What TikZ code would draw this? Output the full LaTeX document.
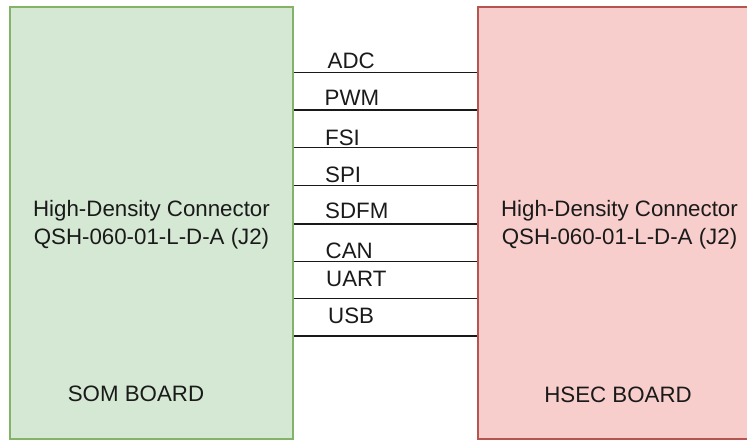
\documentclass[tikz,border=0pt]{standalone}
\usepackage{fontspec}
\setmainfont{Liberation Sans}
\definecolor{somfill}{HTML}{D5E8D4}
\definecolor{somline}{HTML}{82B366}
\definecolor{hsecfill}{HTML}{F8CECC}
\definecolor{hsecline}{HTML}{B85450}
\definecolor{txt}{HTML}{1A1A1A}
\begin{document}
\begin{tikzpicture}[x=1pt,y=-1pt,
  board/.style={rectangle, minimum width=283pt, minimum height=432pt, inner sep=0pt, line width=1.5pt},
  wire/.style={draw=black!90, line width=1.7pt},
  lbl/.style={inner sep=0pt, text=txt, font=\fontsize{22.3}{28}\selectfont},
  title/.style={inner sep=0pt, text=txt, align=center, font=\fontsize{22.3}{28}\selectfont}]
\useasboundingbox (0,0) rectangle (747,440);
\fill[white] (0,0) rectangle (747,440);
\clip (0,0) rectangle (747,440);
\node[board, fill=somfill, draw=somline] (som) at (151.5,223) {};
\node[board, fill=hsecfill, draw=hsecline] (hsec) at (619.5,223) {};
\node[title] (somtxt) at (151.5,225) {High-Density Connector\\QSH-060-01-L-D-A (J2)};
\node[title] (hsectxt) at (619.5,225) {High-Density Connector\\QSH-060-01-L-D-A (J2)};
\node[lbl, anchor=base] (somname) at (136,401) {SOM BOARD};
\node[lbl, anchor=base] (hsecname) at (618,402) {HSEC BOARD};
\draw[wire] (som.east |- 0,72.5) -- (hsec.west |- 0,72.5);
\draw[wire] (som.east |- 0,110) -- (hsec.west |- 0,110);
\draw[wire] (som.east |- 0,147.5) -- (hsec.west |- 0,147.5);
\draw[wire] (som.east |- 0,185.5) -- (hsec.west |- 0,185.5);
\draw[wire] (som.east |- 0,224) -- (hsec.west |- 0,224);
\draw[wire] (som.east |- 0,261.5) -- (hsec.west |- 0,261.5);
\draw[wire] (som.east |- 0,298.5) -- (hsec.west |- 0,298.5);
\draw[wire] (som.east |- 0,336) -- (hsec.west |- 0,336);
\node[lbl, anchor=base west] (tadc) at (327.5,68) {ADC};
\node[lbl, anchor=base west] (tpwm) at (324.5,105) {PWM};
\node[lbl, anchor=base west] (tfsi) at (325,145) {FSI};
\node[lbl, anchor=base west] (tspi) at (325,182.5) {SPI};
\node[lbl, anchor=base west] (tsdfm) at (325,218) {SDFM};
\node[lbl, anchor=base west] (tcan) at (325.5,258) {CAN};
\node[lbl, anchor=base west] (tuart) at (326,286) {UART};
\node[lbl, anchor=base west] (tusb) at (328,323) {USB};
\end{tikzpicture}
\end{document}
